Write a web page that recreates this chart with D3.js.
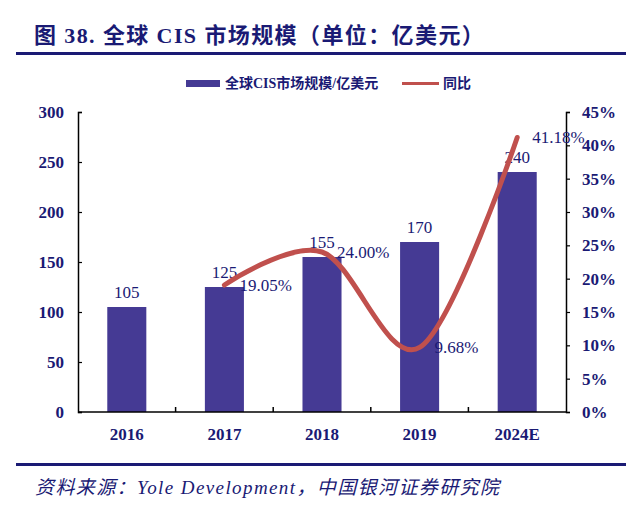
<!DOCTYPE html>
<html>
<head>
<meta charset="utf-8">
<script src="https://cdn.jsdelivr.net/npm/d3@7"></script>
<style>
  body { margin: 0; background: #fff; }
  svg { display: block; }
</style>
</head>
<body>
<svg id="chart" width="640" height="513"></svg>
<script>
// data
const years = ["2016", "2017", "2018", "2019", "2024E"];
const marketSize = [105, 125, 155, 170, 240];            // 亿美元
const growthYears = ["2017", "2018", "2019", "2024E"];
const growth = [19.05, 24.00, 9.68, 41.18];              // %
const leftTicks = [0, 50, 100, 150, 200, 250, 300];
const rightTicks = [0, 5, 10, 15, 20, 25, 30, 35, 40, 45];

const navy = "#1a1a74";
const barColor = "#453a94";
const lineColor = "#c0504d";
const serif = "'Liberation Serif', 'Times New Roman', 'Noto Sans CJK SC', serif";
const cjk = "'Liberation Serif', 'Noto Sans CJK SC', serif";

const svg = d3.select("#chart");

// title + rules
svg.append("text")
    .attr("x", 34).attr("y", 43)
    .attr("fill", navy)
    .style("font", `bold 22px ${cjk}`)
    .style("letter-spacing", "1.4px")
    .text("图 38. 全球 CIS 市场规模（单位：亿美元）");
svg.append("rect").attr("x", 16).attr("y", 52).attr("width", 610).attr("height", 3).attr("fill", navy);
svg.append("rect").attr("x", 16).attr("y", 463).attr("width", 610).attr("height", 3).attr("fill", navy);

svg.append("text")
    .attr("x", 35).attr("y", 494)
    .attr("fill", navy)
    .style("font", `italic 19px ${cjk}`)
    .style("letter-spacing", "1.4px")
    .text("资料来源：Yole Development，中国银河证券研究院");

// scales
const plotL = 78, plotR = 566, plotT = 112, plotB = 412;
const x = d3.scaleBand().domain(years).range([plotL, plotR]).paddingInner(0.6).paddingOuter(0.3);
const y = d3.scaleLinear().domain([0, 300]).range([plotB, plotT]);
const y2 = d3.scaleLinear().domain([0, 45]).range([plotB, plotT]);

// bars
svg.append("g")
    .selectAll("rect")
    .data(marketSize)
    .join("rect")
    .attr("x", (d, i) => x(years[i]))
    .attr("y", d => y(d))
    .attr("width", x.bandwidth())
    .attr("height", d => plotB - y(d))
    .attr("fill", barColor);

svg.append("g")
    .style("font", `17px ${serif}`)
    .attr("fill", navy)
    .attr("text-anchor", "middle")
    .selectAll("text")
    .data(marketSize)
    .join("text")
    .attr("x", (d, i) => x(years[i]) + x.bandwidth() / 2)
    .attr("y", d => y(d) - 9)
    .text(d => d);

// axes
const axisL = svg.append("g").attr("transform", `translate(${plotL},0)`)
    .call(d3.axisLeft(y).tickValues(leftTicks).tickSize(-4).tickPadding(14));
const axisR = svg.append("g").attr("transform", `translate(${plotR},0)`)
    .call(d3.axisRight(y2).tickValues(rightTicks).tickSize(4).tickPadding(12).tickFormat(d => d + "%"));

// x axis: baseline with ticks at category boundaries
const step = x.step();
const bounds = d3.range(1, years.length).map(i => x(years[i]) - (step - x.bandwidth()) / 2);
const axisB = svg.append("g");
axisB.append("line").attr("x1", plotL).attr("x2", plotR).attr("y1", plotB).attr("y2", plotB);
axisB.selectAll(".tk").data(bounds).join("line").attr("class", "tk")
    .attr("x1", d => d).attr("x2", d => d).attr("y1", plotB).attr("y2", plotB - 5);
axisB.selectAll("text").data(years).join("text")
    .attr("x", d => x(d) + x.bandwidth() / 2)
    .attr("y", 440)
    .attr("text-anchor", "middle")
    .text(d => d);

[axisL, axisR].forEach(g => {
  g.select(".domain").attr("stroke", "#000").attr("stroke-width", 1.5);
  g.selectAll(".tick line").attr("stroke", "#000").attr("stroke-width", 1.2);
  g.selectAll("text").style("font", `bold 17px ${serif}`).attr("fill", navy);
});
axisR.selectAll("text").attr("x", 16);
axisB.selectAll("line").attr("stroke", "#000").attr("stroke-width", 1.5);
axisB.selectAll("text").style("font", `bold 17px ${serif}`).attr("fill", navy);

// growth line
const pts = growth.map((v, i) => [x(growthYears[i]) + x.bandwidth() / 2, y2(v)]);
svg.append("path")
    .attr("d", d3.line().curve(d3.curveCardinal.tension(0))(pts))
    .attr("fill", "none")
    .attr("stroke", lineColor)
    .attr("stroke-width", 5)
    .attr("stroke-linecap", "round");

svg.append("g")
    .style("font", `17px ${serif}`)
    .attr("fill", navy)
    .selectAll("text")
    .data(growth)
    .join("text")
    .attr("x", (d, i) => pts[i][0] + 15)
    .attr("y", (d, i) => pts[i][1])
    .attr("dy", "0.35em")
    .text(d => d.toFixed(2) + "%");

// legend
const lg = svg.append("g").style("font", `bold 14px ${cjk}`).attr("fill", navy);
lg.append("rect").attr("x", 186).attr("y", 80).attr("width", 34).attr("height", 7).attr("fill", barColor);
lg.append("text").attr("x", 225).attr("y", 83).attr("dy", "0.35em").text("全球CIS市场规模/亿美元");
lg.append("rect").attr("x", 402).attr("y", 82).attr("width", 37).attr("height", 3).attr("fill", lineColor);
lg.append("text").attr("x", 443).attr("y", 83).attr("dy", "0.35em").text("同比");
</script>
</body>
</html>
